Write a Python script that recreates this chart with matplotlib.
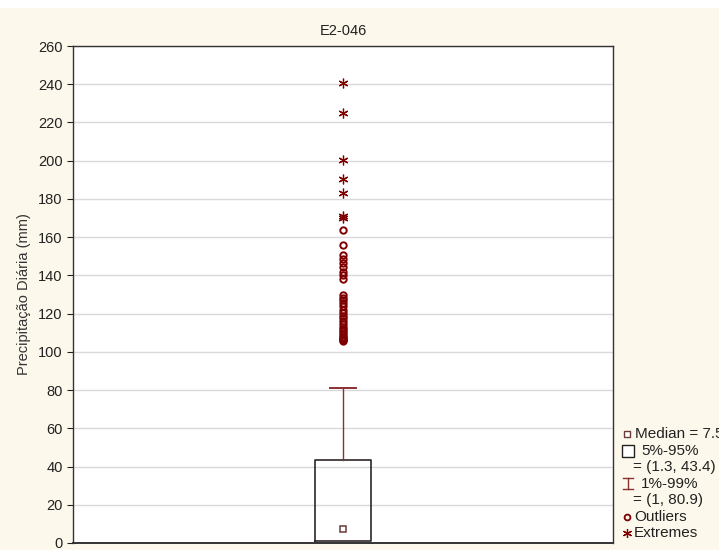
import matplotlib
matplotlib.use('agg')
import matplotlib.pyplot as plt
from matplotlib.patches import Rectangle

# data
station = "E2-046"
median_val = 7.5
p5, p95 = 1.3, 43.4
p1, p99 = 1.0, 80.9
outliers = [164, 156, 150.5, 148.5, 146.5, 144.5, 142, 140, 138,
            129.5, 128, 127, 125.5, 124, 122, 120.5, 119, 117.5, 116,
            114.5, 113, 112, 111, 110, 109, 108, 107.5, 106.5, 106, 105.5]
extremes = [240.7, 224.7, 200.3, 190.4, 183.2, 171, 170]
yticks = list(range(0, 261, 20))

W, H = 719, 550
bg = '#fdf8ec'
dark_red = '#7f0000'
whisk_col = '#8b3030'
box_col = '#2e2626'

plt.rcParams['font.family'] = ['Liberation Sans', 'DejaVu Sans']

fig = plt.figure(figsize=(W / 100, H / 100), dpi=100)
fig.patch.set_facecolor(bg)
# white strip along the top edge
fig.patches.append(Rectangle((0, 1 - 8 / H), 1, 8 / H, transform=fig.transFigure,
                             facecolor='white', edgecolor='none', zorder=0))

ax = fig.add_axes([73 / W, 7 / H, 540 / W, 497 / H])
ax.set_facecolor('white')

# box (5%-95%) with whiskers to 1%-99%
stats = [dict(med=median_val, q1=p5, q3=p95, whislo=p1, whishi=p99, fliers=[])]
parts = ax.bxp(stats, positions=[1], widths=0.204, capwidths=[0.096], showfliers=False,
               boxprops=dict(color=box_col, linewidth=1.2),
               whiskerprops=dict(color=whisk_col, linewidth=1.0),
               capprops=dict(color=whisk_col, linewidth=1.4),
               medianprops=dict(linewidth=0))
# lower whisker sits inside the box bottom, hidden in the original
parts['caps'][0].set_visible(False)
parts['whiskers'][0].set_visible(False)
ax.plot([1], [median_val], marker='s', ms=5, mfc='white', mec='#6b3a3a', mew=1.1,
        linestyle='none', zorder=4)

# outliers and extremes
ax.plot([1] * len(outliers), outliers, marker='o', ms=4.6, mfc='none', mec=dark_red,
        mew=1.4, linestyle='none', zorder=4)
ax.plot([1] * len(extremes), extremes, marker=(6, 2, 0), ms=7, mec=dark_red,
        mew=0.9, linestyle='none', zorder=4)

ax.set_xlim(0, 2)
ax.set_ylim(0, 260)
ax.set_yticks(yticks)
ax.set_xticks([])
ax.tick_params(axis='y', labelsize=10.5, length=4, direction='out', colors='#222222')
ax.grid(axis='y', color='#d9d9d9', linewidth=1.0)
ax.set_axisbelow(True)
for s in ax.spines.values():
    s.set_color('#333333')
    s.set_linewidth(1.0)
ax.spines['bottom'].set_linewidth(1.4)

ax.set_title(station, fontsize=10.5, pad=8, color='#222222')
ax.set_ylabel('Precipitação Diária (mm)', fontsize=10.5, color='#333333', labelpad=5)


# legend drawn by hand to the right of the plot
def fx(x):
    return x / W


def fy(y):
    return 1 - y / H


txt = dict(fontsize=11, color='#222222', va='center', ha='left')
fig.add_artist(plt.Line2D([fx(627)], [fy(434)], marker='s', ms=4.5, mfc='white',
                          mec='#6b3a3a', mew=1.0, linestyle='none'))
fig.text(fx(635), fy(434), 'Median = 7.5', **txt)
fig.patches.append(Rectangle((fx(622), fy(457)), 12 / W, 12 / H, transform=fig.transFigure,
                             facecolor='white', edgecolor='#222222', linewidth=1.0))
fig.text(fx(641), fy(451), '5%-95%', **txt)
fig.text(fx(633), fy(467), '= ({}, {})'.format(p5, p95), **txt)
fig.add_artist(plt.Line2D([fx(628), fx(628)], [fy(478), fy(489)], color=whisk_col, lw=1.0))
fig.add_artist(plt.Line2D([fx(623), fx(633)], [fy(478), fy(478)], color=whisk_col, lw=1.0))
fig.add_artist(plt.Line2D([fx(623), fx(633)], [fy(489), fy(489)], color=whisk_col, lw=1.0))
fig.text(fx(641), fy(484), '1%-99%', **txt)
fig.text(fx(633), fy(500), '= ({:g}, {})'.format(p1, p99), **txt)
fig.add_artist(plt.Line2D([fx(627)], [fy(517)], marker='o', ms=4.2, mfc='none',
                          mec=dark_red, mew=1.3, linestyle='none'))
fig.text(fx(634), fy(517), 'Outliers', **txt)
fig.add_artist(plt.Line2D([fx(627)], [fy(533)], marker=(6, 2, 0), ms=6.5,
                          mec=dark_red, mew=0.9, linestyle='none'))
fig.text(fx(634), fy(533), 'Extremes', **txt)

fig.savefig('out.png', dpi=100, facecolor=fig.get_facecolor())
plt.close(fig)
